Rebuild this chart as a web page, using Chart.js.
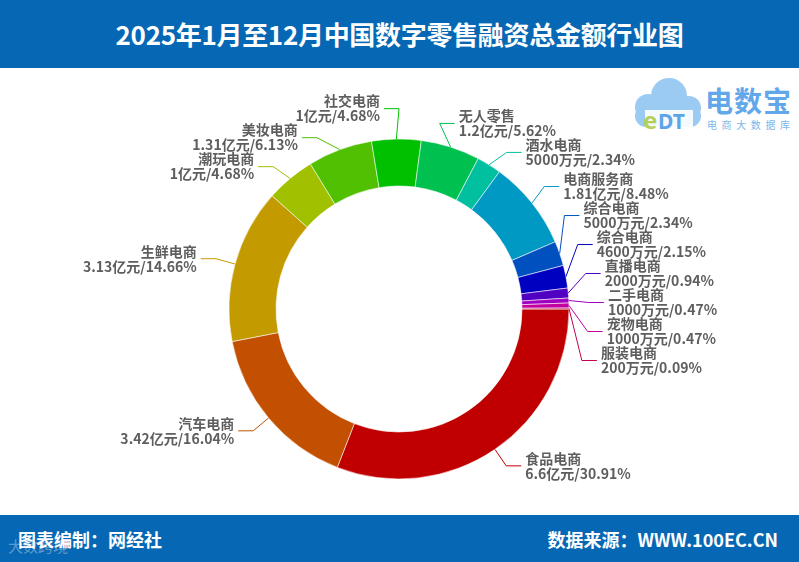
<!DOCTYPE html>
<html><head><meta charset="utf-8">
<script src="https://cdn.jsdelivr.net/npm/chart.js@4.4.1/dist/chart.umd.min.js"></script>
<style>
html,body{margin:0;padding:0;background:#fff;}
#page{position:relative;width:799px;height:562px;overflow:hidden;background:#fff;font-family:"Noto Sans CJK SC","Noto Sans",sans-serif;}
#hdr{position:absolute;left:0;top:0;width:799px;height:68px;background:#0668B4;color:#fff;font-weight:bold;font-size:26px;line-height:68px;text-align:center;letter-spacing:-0.3px;}
#ftr{position:absolute;left:0;top:515px;width:799px;height:47px;background:#0668B4;color:#fff;font-weight:bold;font-size:18px;}
#ftr .l{position:absolute;left:18px;top:11px;}
#ftr .r{position:absolute;right:21px;top:11px;}
#ftr .wm{position:absolute;left:8px;top:20px;font-size:15px;font-weight:normal;color:rgba(255,255,255,0.35);}
#wrap{position:absolute;left:0;top:68px;width:799px;height:447px;}
#logo{position:absolute;left:625px;top:72px;}
#logoT{position:absolute;left:705px;top:80px;font-size:28px;font-weight:bold;color:#62A7EA;letter-spacing:1px;}
#logoS{position:absolute;left:707px;top:117px;font-size:10px;color:#7DB6EA;letter-spacing:4.6px;}
</style></head>
<body><div id="page">
<div id="hdr">2025年1月至12月中国数字零售融资总金额行业图</div>
<svg id="logo" width="80" height="62" viewBox="0 0 80 62">
 <g fill="#9BCBF2">
  <circle cx="44" cy="24" r="18"/>
  <circle cx="23" cy="35" r="13"/>
  <circle cx="64" cy="36" r="12"/>
  <rect x="10" y="33" width="66" height="22" rx="11"/>
 </g>
 <rect x="20" y="38" width="48" height="17" fill="#fff" opacity="0.9"/>
 <text x="18" y="57" font-family="Noto Sans" font-weight="bold" font-size="24" fill="#B5CF5A">e</text>
 <text x="33" y="57" font-family="Noto Sans" font-weight="bold" font-size="21" fill="#5EA4E8">DT</text>
</svg>
<div id="logoT">电数宝</div>
<div id="logoS">电商大数据库</div>
<div id="wrap"><canvas id="c"></canvas></div>
<div id="ftr"><span class="wm">大数跨境</span><span class="l">图表编制：网经社</span><span class="r">数据来源：WWW.100EC.CN</span></div>
</div>
<script>
const categories = ['食品电商','汽车电商','生鲜电商','潮玩电商','美妆电商','社交电商','无人零售','酒水电商','电商服务商','综合电商','综合电商','直播电商','二手电商','宠物电商','服装电商'];
const amounts = [6.6, 3.42, 3.13, 1, 1.31, 1, 1.2, 0.5, 1.81, 0.5, 0.46, 0.2, 0.1, 0.1, 0.02];
const amountLabels = ['6.6亿元','3.42亿元','3.13亿元','1亿元','1.31亿元','1亿元','1.2亿元','5000万元','1.81亿元','5000万元','4600万元','2000万元','1000万元','1000万元','200万元'];
const percentLabels = ['30.91%','16.04%','14.66%','4.68%','6.13%','4.68%','5.62%','2.34%','8.48%','2.34%','2.15%','0.94%','0.47%','0.47%','0.09%'];
const colors = ['#C00000','#C25000','#C39A00','#A0C000','#50C000','#00C000','#00C050','#00C0A0','#0099C4','#0050C0','#0000C0','#5000C0','#A000C0','#C000A0','#C00050'];

const labelPlugin = {
  id: 'pieLabels',
  afterDatasetsDraw(chart) {
    const ctx = chart.ctx;
    const meta = chart.getDatasetMeta(0);
    const len1 = 20, len2 = 15, gap = 4, H = 29;
    const items = [];
    meta.data.forEach((arc, i) => {
      const p = arc.getProps(['x','y','startAngle','endAngle','outerRadius'], true);
      const mid = (p.startAngle + p.endAngle) / 2;
      const c = Math.cos(mid), s = Math.sin(mid);
      const R1 = p.outerRadius + len1;
      items.push({i, cx:p.x, cy:p.y, R1, x0:p.x + p.outerRadius*c, y0:p.y + p.outerRadius*s,
        bx:p.x + R1*c, y:p.y + R1*s, ny:p.y + R1*s, right: c >= 0});
    });
    [true,false].forEach(side => {
      const g = items.filter(t => t.right === side).sort((a,b)=>a.y-b.y);
      for (let it = 0; it < 500; it++) {
        let moved = false;
        for (let k = 1; k < g.length; k++) {
          const d = g[k].y - g[k-1].y;
          if (d < H - 0.01) { const sh = (H - d)/2; g[k].y += sh; g[k-1].y -= sh; moved = true; }
        }
        if (!moved) break;
      }
    });
    ctx.save();
    items.forEach(t => {
      const dir = t.right ? 1 : -1;
      let bx = t.bx;
      if (Math.abs(t.y - t.ny) > 0.5) {
        const dy = t.y - t.cy;
        const dx = Math.sqrt(Math.max(t.R1*t.R1 - dy*dy, 0));
        bx = t.cx + dir*dx;
      }
      const ex = bx + dir*len2;
      ctx.strokeStyle = colors[t.i];
      ctx.lineWidth = 1;
      ctx.beginPath();
      ctx.moveTo(t.x0, t.y0);
      ctx.lineTo(bx, t.y);
      ctx.lineTo(ex, t.y);
      ctx.stroke();
      ctx.fillStyle = '#5E5E5E';
      ctx.font = 'bold 14px "Noto Sans CJK SC", sans-serif';
      ctx.textAlign = t.right ? 'left' : 'right';
      ctx.textBaseline = 'middle';
      const tx = ex + dir*gap;
      ctx.fillText(categories[t.i], tx, t.y - 7.5);
      ctx.fillText(amountLabels[t.i] + '/' + percentLabels[t.i], tx, t.y + 7.5);
    });
    ctx.restore();
  }
};

new Chart(document.getElementById('c'), {
  type: 'doughnut',
  data: {
    labels: categories,
    datasets: [{
      data: amounts,
      backgroundColor: colors,
      borderColor: 'rgba(255,255,255,0.55)',
      borderWidth: 1,
      hoverOffset: 0
    }]
  },
  options: {
    responsive: true,
    maintainAspectRatio: false,
    animation: false,
    rotation: 90,
    radius: 170,
    cutout: '72.35%',
    layout: { padding: { top: 71, bottom: 36, left: 229, right: 230 } },
    plugins: { legend: { display: false }, tooltip: { enabled: false } }
  },
  plugins: [labelPlugin]
});
</script>
</body></html>
